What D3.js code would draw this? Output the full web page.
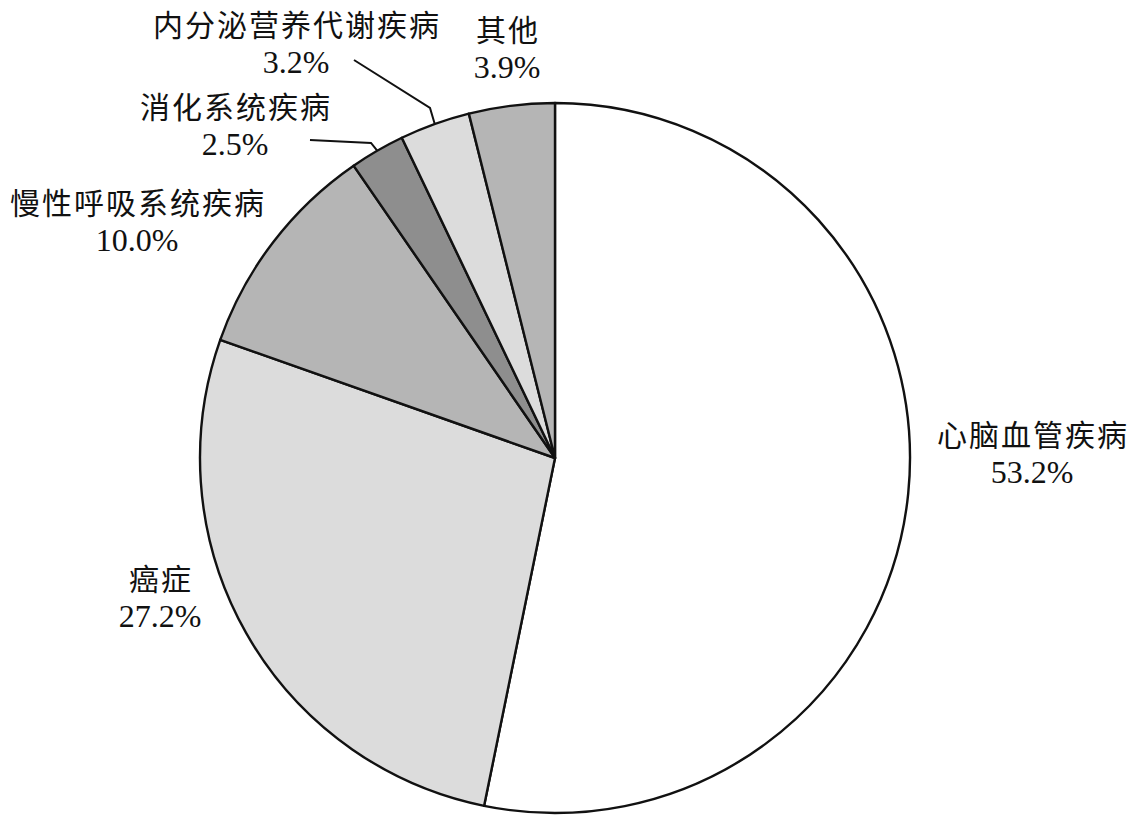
<!DOCTYPE html>
<html>
<head>
<meta charset="utf-8">
<script src="https://cdn.jsdelivr.net/npm/d3@7"></script>
<style>
  body { margin: 0; background: #fff; }
  .name { font-family: "Noto Sans CJK SC", sans-serif; font-size: 30px; letter-spacing: 2px; fill: #111; }
  .pct { font-family: "Liberation Serif", "Times New Roman", serif; font-size: 32px; fill: #111; }
</style>
</head>
<body>
<script>
// data, clockwise from 12 o'clock
var categories = ["心脑血管疾病", "癌症", "慢性呼吸系统疾病", "消化系统疾病", "内分泌营养代谢疾病", "其他"];
var shares = [53.2, 27.2, 10.0, 2.5, 3.2, 3.9];
var pctLabels = ["53.2%", "27.2%", "10.0%", "2.5%", "3.2%", "3.9%"];
var fills = ["#ffffff", "#dcdcdc", "#b5b5b5", "#8e8e8e", "#dcdcdc", "#b5b5b5"];

var W = 1139, H = 821;
var cx = 555, cy = 458, R = 355;

// label anchors (x centre, y of first line) and leader lines for the small slices
var labelAt = [[1033, 446], [161, 590], [138, 214], [236, 118], [297, 36], [508, 41]];
var leaders = {
  3: [[310, 140], [371, 143]],
  4: [[354, 60], [430, 108]]
};

var svg = d3.select('body').append('svg')
            .attr("width", W)
            .attr("height", H);

var pie = d3.pie().sort(null).value(function (d) { return d; });
var arcs = pie(shares);
var arc = d3.arc().innerRadius(0).outerRadius(R);

var g = svg.append('g').attr('transform', 'translate(' + cx + ',' + cy + ')');

g.selectAll('path')
  .data(arcs)
  .enter().append('path')
  .attr('d', arc)
  .attr('fill', function (d, i) { return fills[i]; })
  .attr('stroke', '#111')
  .attr('stroke-width', 2.4)
  .attr('stroke-linejoin', 'round');

// leader lines end on the arc at the slice's mid angle
Object.keys(leaders).forEach(function (k) {
  var a = arcs[k];
  var mid = (a.startAngle + a.endAngle) / 2;
  var pts = leaders[k].slice();
  pts.push([cx + R * Math.sin(mid), cy - R * Math.cos(mid)]);
  svg.append('path')
    .attr('d', d3.line()(pts))
    .attr('fill', 'none')
    .attr('stroke', '#111')
    .attr('stroke-width', 2);
});

var labels = svg.selectAll('g.lab')
  .data(categories)
  .enter().append('g')
  .attr('class', 'lab')
  .attr('transform', function (d, i) { return 'translate(' + labelAt[i][0] + ',' + labelAt[i][1] + ')'; });

labels.append('text')
  .attr('class', 'name')
  .attr('text-anchor', 'middle')
  .text(function (d) { return d; });

labels.append('text')
  .attr('class', 'pct')
  .attr('text-anchor', 'middle')
  .attr('x', -1)
  .attr('y', 37)
  .text(function (d, i) { return pctLabels[i]; });
</script>
</body>
</html>
